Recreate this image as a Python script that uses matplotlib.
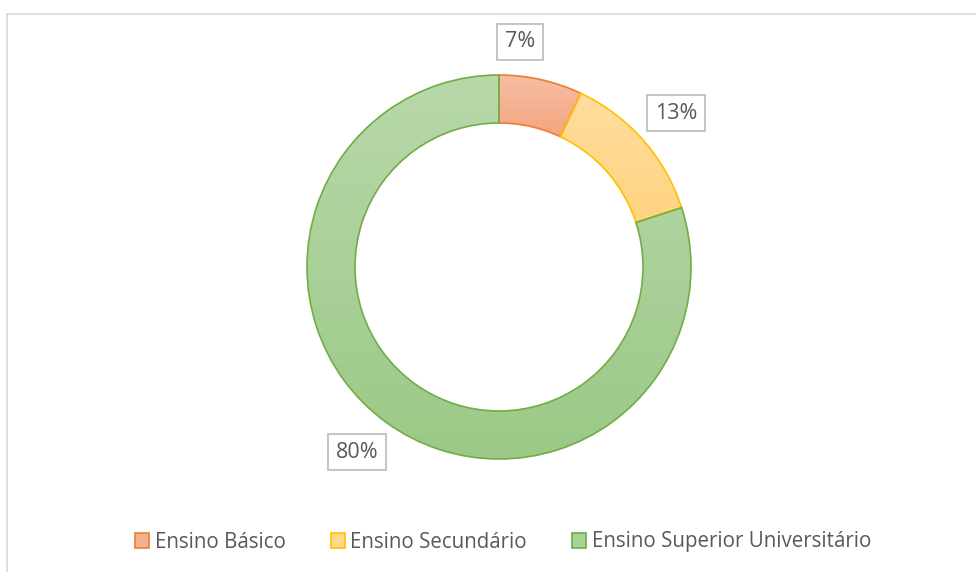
import numpy as np
import matplotlib.pyplot as plt
from matplotlib.lines import Line2D
from matplotlib.colors import LinearSegmentedColormap

categorias = ['Ensino Básico', 'Ensino Secundário', 'Ensino Superior Universitário']
valores = [7, 13, 80]
rotulos = ['7%', '13%', '80%']

# gradiente: cor de cima, cor de baixo
cores_topo = ['#F7BEA4', '#FFDDA0', '#B8D8AA']
cores_base = ['#F4A47E', '#FFD37F', '#9CC987']
cores = ['#F5B08F', '#FFD98A', '#ABD295']
bordas = ['#ED7D31', '#FFC000', '#70AD47']

W, H = 976, 572
fig = plt.figure(figsize=(W / 100, H / 100), dpi=100)

# moldura do gráfico (parte visível)
fig.add_artist(Line2D([7 / W, 1], [1 - 14 / H, 1 - 14 / H], color='#D9D9D9', lw=1.2))
fig.add_artist(Line2D([7 / W, 7 / W], [0, 1 - 14 / H], color='#D9D9D9', lw=1.2))

cx, cy, r = 499, 267, 192
ax = fig.add_axes([(cx - r) / W, (H - cy - r) / H, 2 * r / W, 2 * r / H])

wedges, _ = ax.pie(valores, colors=cores, startangle=90, counterclock=False,
                   radius=1, wedgeprops=dict(width=0.25, linewidth=1.2))
for w, b, c1, c2 in zip(wedges, bordas, cores_topo, cores_base):
    w.set_edgecolor(b)
    w.set_facecolor('none')
    w.set_zorder(3)
    ext = w.get_path().get_extents()
    cmap = LinearSegmentedColormap.from_list('g', [c2, c1])
    grad = np.linspace(0, 1, 256).reshape(-1, 1)
    im = ax.imshow(grad, cmap=cmap, origin='lower', aspect='auto',
                   extent=[ext.x0, ext.x1, ext.y0, ext.y1], zorder=2)
    im.set_clip_path(w)
ax.set_xlim(-1, 1)
ax.set_ylim(-1, 1)
ax.set_aspect('equal')
ax.axis('off')

# posições das etiquetas (como no Excel)
pos_rotulos = [(0.109, 1.172), (0.922, 0.802), (-0.74, -0.964)]
for txt, (x, y) in zip(rotulos, pos_rotulos):
    ax.text(x, y, txt, ha='center', va='center', fontsize=15.5, color='#595959',
            family='Open Sans',
            bbox=dict(boxstyle='square,pad=0.35', fc='white', ec='#BFBFBF', lw=1.3),
            clip_on=False, zorder=5)

leg = fig.legend(wedges, categorias, loc='center', bbox_to_anchor=(503 / W, 1 - 542 / H),
                 ncol=3, frameon=False, handlelength=0.7, handleheight=0.7,
                 handletextpad=0.25, columnspacing=2.2,
                 prop=dict(family='Open Sans', size=14.8))
for t, h, c in zip(leg.get_texts(), leg.legend_handles, cores):
    t.set_color('#595959')
    h.set_facecolor(c)

fig.savefig('out.png', dpi=100)
